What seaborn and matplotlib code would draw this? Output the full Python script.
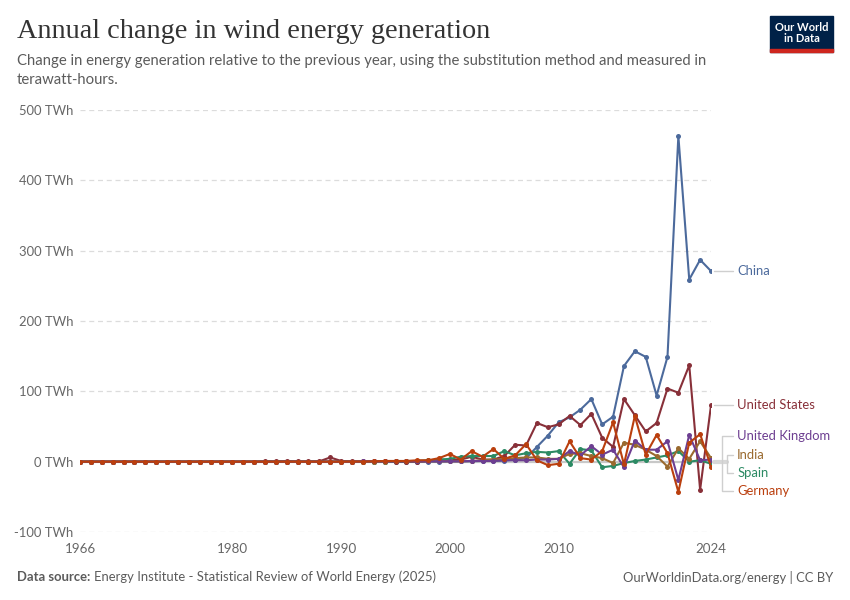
import matplotlib
matplotlib.use("Agg")
import matplotlib.pyplot as plt
from matplotlib.patches import Rectangle
import seaborn as sns
import pandas as pd

# ---------------- data (TWh, annual change) ----------------
years = list(range(1966, 2025))

china = [0, 0, 0, 0, 0, 0, 0, 0, 0, 0,        # 1966-1975
         0, 0, 0, 0, 0, 0, 0, 0, 0, 0,        # 1976-1985
         0, 0, 0, 0, 0, 0, 0, 0, 0, 0,        # 1986-1995
         0, 0, 0, 0, 0.5, 0.5, 0.5, 1, 1, 1.5,  # 1996-2005
         3, 5, 21, 37, 56, 63, 74, 89, 53, 64,  # 2006-2015
         136, 157, 149, 94, 149, 463, 259, 287, 271]  # 2016-2024

united_states = [0, 0, 0, 0, 0, 0, 0, 0, 0, 0,
                 0, 0, 0, 0, 0, 0, 0, 0.5, 0.5, 1,
                 0.5, 0.5, 0.5, 6, 1, 0.5, 0.5, 0.5, 0.5, 0,
                 0, 0, 1, 3, 2, 3, 7, 3, 3, 8,
                 24, 23, 55, 49, 53, 65, 52, 68, 34, 21,
                 89, 66, 43, 55, 104, 98, 137, -40, 80]

united_kingdom = [0, 0, 0, 0, 0, 0, 0, 0, 0, 0,
                  0, 0, 0, 0, 0, 0, 0, 0, 0, 0,
                  0, 0, 0, 0, 0, 0, 0.3, 0.3, 0.3, 0.3,
                  0.5, 0.5, 0.5, 0.5, 0.5, 0.5, 1, 1, 1, 2,
                  2, 2, 3, 3, 4, 15, 9, 22, 10, 17,
                  -8, 30, 17, 17, 29, -26, 38, 2, 3]

india = [0, 0, 0, 0, 0, 0, 0, 0, 0, 0,
         0, 0, 0, 0, 0, 0, 0, 0, 0, 0,
         0, 0, 0, 0, 0, 0, 0, 0, 0, 0.5,
         0.5, 0.5, 0.5, 0.5, 0.5, 0.5, 1, 2, 3, 4,
         5, 6, 6, 4, 4, 11, 12, 8, 5, -2,
         27, 24, 17, 8, -7, 19, 4, 29, 5]

spain = [0, 0, 0, 0, 0, 0, 0, 0, 0, 0,
         0, 0, 0, 0, 0, 0, 0, 0, 0, 0,
         0, 0, 0, 0, 0, 0, 0, 0, 0.2, 0.3,
         0.5, 1, 2, 3, 4, 7, 8, 8, 8, 15,
         9, 12, 14, 13, 15, -3, 18, 16, -8, -6,
         -2, 1, 3, 6, 9, 15, 0, 2, -3]

germany = [0, 0, 0, 0, 0, 0, 0, 0, 0, 0,
           0, 0, 0, 0, 0, 0, 0, 0, 0, 0,
           0, 0, 0, 0, 0, 0.2, 0.2, 0.5, 1, 1,
           1, 2, 2, 5, 11, 3, 15, 7, 18, 4,
           9, 25, 2, -5, -3, 29, 5, 3, 15, 56,
           -4, 65, 10, 38, 12, -43, 27, 39, -7]

series = {
    "China": china,
    "United States": united_states,
    "United Kingdom": united_kingdom,
    "India": india,
    "Spain": spain,
    "Germany": germany,
}
colors = {
    "China": "#4C6A9C",
    "United States": "#883039",
    "United Kingdom": "#6D3E91",
    "India": "#9A6A2F",
    "Spain": "#2C8A64",
    "Germany": "#BA3F0E",
}
draw_order = ["China", "United States", "Spain", "India", "United Kingdom", "Germany"]

# label positions (data y) for the right-hand labels
label_y = {"China": 271, "United States": 80, "United Kingdom": 37,
           "India": 10, "Spain": -16, "Germany": -41}

yticks = [-100, 0, 100, 200, 300, 400, 500]
xticks = [1966, 1980, 1990, 2000, 2010, 2024]

df = pd.DataFrame([
    {"year": y, "value": v, "country": c}
    for c, vals in series.items() for y, v in zip(years, vals)
])

# ---------------- figure ----------------
sns.set_theme(style="white")
plt.rcParams["font.family"] = ["Lato", "DejaVu Sans"]

W, H = 850, 600
fig = plt.figure(figsize=(8.5, 6), dpi=100)
ax = fig.add_axes([80 / W, 1 - 532 / H, 631 / W, 422 / H])

# grid
for yv in yticks:
    if yv == 0:
        continue
    ax.axhline(yv, color="#dcdcdc", lw=0.9, ls=(0, (4, 3)), zorder=0)
ax.axhline(0, color="#c8c8c8", lw=1.6, zorder=0.5)

sns.lineplot(data=df, x="year", y="value", hue="country",
             hue_order=draw_order, palette=colors, estimator=None,
             marker="o", markersize=3.6, markeredgewidth=0,
             linewidth=1.5, legend=False, ax=ax, zorder=3)

ax.set_xlim(1966, 2024)
ax.set_ylim(-100, 500)
ax.set_yticks(yticks)
ax.set_yticklabels([f"{v} TWh" for v in yticks])
ax.set_xticks(xticks)
ax.set_xticklabels([str(x) for x in xticks])
ax.set_xlabel("")
ax.set_ylabel("")
for s in ax.spines.values():
    s.set_visible(False)
ax.tick_params(axis="y", length=0, pad=5, labelsize=9.4, labelcolor="#666666")
ax.tick_params(axis="x", length=4, width=0.8, color="#999999", pad=4,
               labelsize=9.6, labelcolor="#666666", direction="out")
ax.grid(False)

# right-hand labels & connectors
conn = "#cfcfcf"
xl = 2026.4
ax.plot([2024.25, 2026.0], [271, 271], color=conn, lw=1, clip_on=False)
ax.plot([2024.25, 2026.0], [80, 80], color=conn, lw=1, clip_on=False)
ax.plot([2024.25, 2025.5], [0, 0], color="#d8d8d8", lw=3, clip_on=False)
ax.plot([2026.0, 2025.0, 2025.0, 2026.0], [37, 37, -41, -41], color=conn, lw=1, clip_on=False)
ax.plot([2026.0, 2025.5, 2025.5, 2026.0], [10, 10, -16, -16], color=conn, lw=1, clip_on=False)
for c in series:
    ax.text(xl, label_y[c], c, color=colors[c], fontsize=9.4,
            va="center", ha="left", clip_on=False)

# ---------------- header ----------------
fig.text(17 / W, 1 - 32 / H, "Annual change in wind energy generation",
         family=["Liberation Serif", "DejaVu Serif"], fontsize=20.3,
         color="#333333", va="center", ha="left")
fig.text(17 / W, 1 - 61 / H,
         "Change in energy generation relative to the previous year, using the substitution method and measured in",
         fontsize=10.7, color="#5b5b5b", va="center", ha="left")
fig.text(17 / W, 1 - 80 / H, "terawatt-hours.",
         fontsize=10.7, color="#5b5b5b", va="center", ha="left")

# logo
lx0, lx1, ly0, ly1 = 770, 833, 16, 52
fig.add_artist(Rectangle((lx0 / W, 1 - ly1 / H), (lx1 - lx0) / W, (ly1 - ly0) / H,
                         transform=fig.transFigure, color="#002147", zorder=5))
fig.add_artist(Rectangle((lx0 / W, 1 - ly1 / H), (lx1 - lx0) / W, 3 / H,
                         transform=fig.transFigure, color="#CE261E", zorder=6))
fig.text((lx0 + lx1) / 2 / W, 1 - 33 / H, "Our World\nin Data", color="white",
         fontsize=8.0, ha="center", va="center", linespacing=1.0, zorder=7,
         fontweight="bold")

# ---------------- footer ----------------
t1 = fig.text(17 / W, 1 - 577 / H, "Data source:", fontsize=9.4, color="#5b5b5b",
              fontweight="bold", va="center", ha="left")
fig.canvas.draw()
bb = t1.get_window_extent(renderer=fig.canvas.get_renderer())
fig.text((bb.x1 + 4) / W, 1 - 577 / H,
         "Energy Institute - Statistical Review of World Energy (2025)",
         fontsize=9.4, color="#5b5b5b", va="center", ha="left")
fig.text(833 / W, 1 - 577 / H, "OurWorldinData.org/energy | CC BY",
         fontsize=9.4, color="#5b5b5b", va="center", ha="right")

fig.savefig("out.png", dpi=100)
